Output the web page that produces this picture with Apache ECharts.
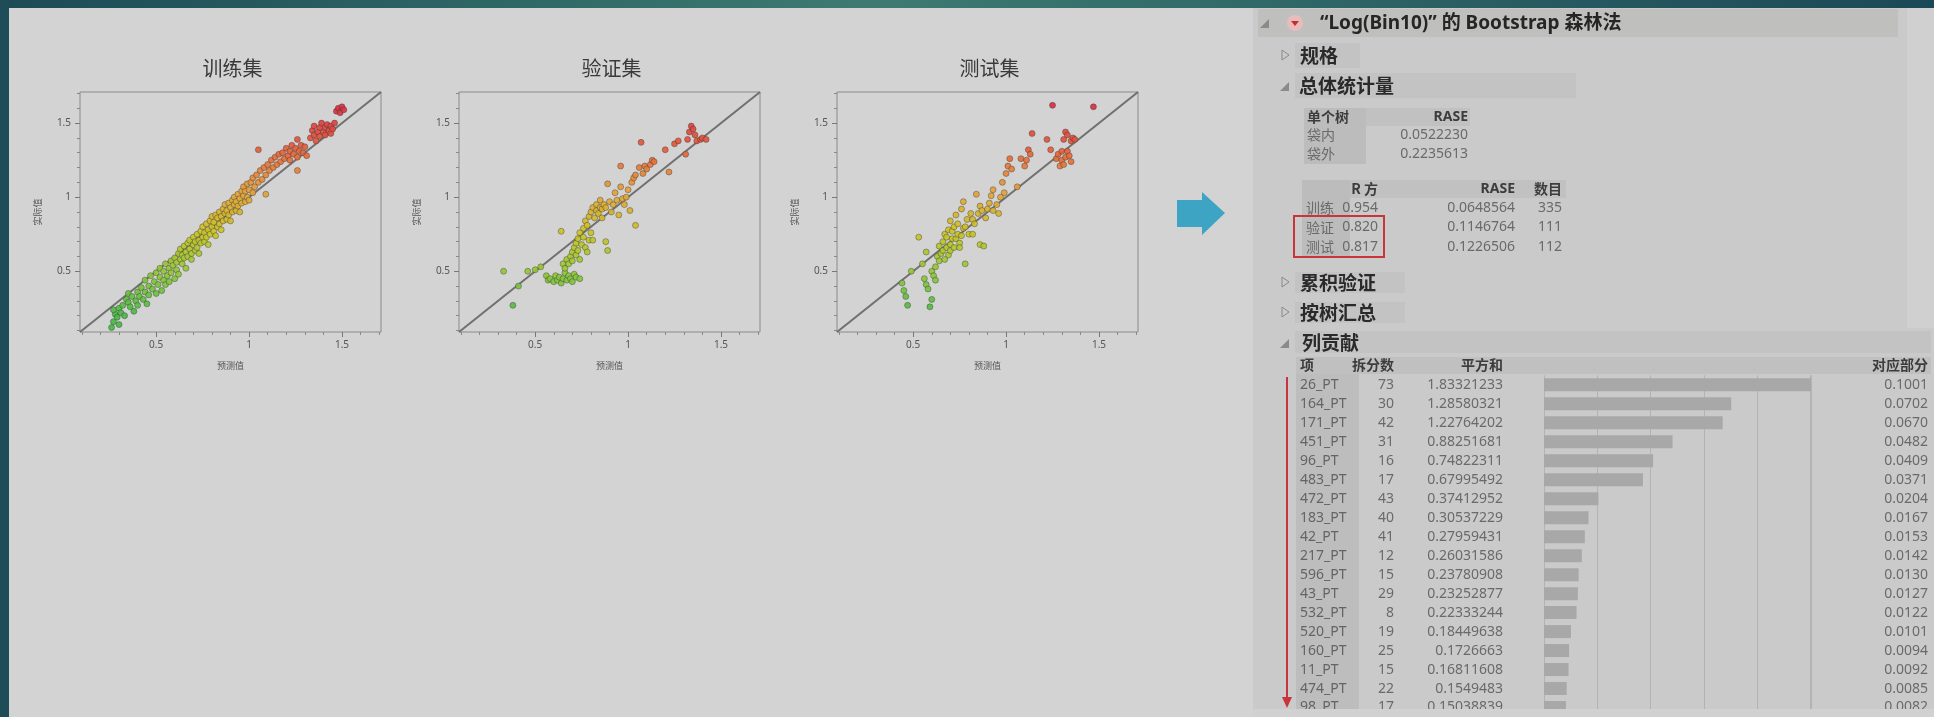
<!DOCTYPE html>
<html>
<head>
<meta charset="utf-8">
<script src="https://cdn.jsdelivr.net/npm/echarts@6.0.0/dist/echarts.min.js"></script>
<style>
  html, body { margin: 0; padding: 0; background: #d3d3d3; }
  #chart { width: 1934px; height: 717px; }
</style>
</head>
<body>
<div id="chart"></div>
<script>
// ---------- Actual vs. predicted panels ----------
const panelTitles = ['训练集', '验证集', '测试集'];
const xAxisName = '预测值';
const yAxisName = '实际值';
const majorTicks = [0.5, 1, 1.5];
const majorTickLabels = ['0.5', '1', '1.5'];
const minorTicks = [0.1, 0.2, 0.3, 0.4, 0.6, 0.7, 0.8, 0.9, 1.1, 1.2, 1.3, 1.4, 1.6, 1.7];

// [predicted, actual]
const trainPoints = [
  [0.26,0.12],[0.27,0.16],[0.28,0.21],[0.27,0.24],[0.29,0.19],[0.3,0.14],[0.3,0.25],[0.31,0.22],[0.32,0.27],[0.33,0.2],
  [0.34,0.31],[0.35,0.29],[0.35,0.35],[0.36,0.26],[0.37,0.33],[0.38,0.23],[0.39,0.3],[0.4,0.36],[0.4,0.27],[0.41,0.33],
  [0.42,0.39],[0.43,0.31],[0.44,0.36],[0.44,0.44],[0.45,0.28],[0.46,0.4],[0.46,0.34],
  [0.47,0.47],[0.48,0.38],[0.49,0.43],[0.5,0.35],[0.5,0.49],[0.51,0.41],[0.52,0.46],[0.52,0.52],[0.53,0.37],[0.54,0.44],
  [0.54,0.5],[0.55,0.41],[0.55,0.55],[0.56,0.47],[0.57,0.52],[0.57,0.43],[0.58,0.57],[0.58,0.49],[0.59,0.54],[0.6,0.45],
  [0.6,0.59],[0.61,0.51],[0.61,0.56],[0.62,0.62],[0.62,0.48],
  [0.63,0.58],[0.63,0.65],[0.64,0.55],[0.64,0.61],[0.65,0.67],[0.65,0.59],[0.66,0.63],[0.66,0.52],[0.67,0.69],[0.67,0.6],
  [0.68,0.65],[0.68,0.71],[0.69,0.62],[0.69,0.58],[0.7,0.68],[0.7,0.73],[0.71,0.64],[0.71,0.7],[0.72,0.75],[0.72,0.66],
  [0.73,0.71],[0.73,0.62],[0.74,0.77],[0.74,0.69],[0.75,0.73],[0.75,0.8],[0.76,0.7],[0.76,0.76],[0.77,0.82],[0.77,0.73],
  [0.78,0.78],[0.78,0.68],[0.79,0.84],[0.79,0.75],[0.8,0.8],[0.8,0.87],[0.81,0.77],[0.81,0.83],[0.82,0.88],[0.82,0.74],
  [0.83,0.8],[0.83,0.86],[0.84,0.9],[0.84,0.82],[0.85,0.87],[0.85,0.78],[0.86,0.92],[0.86,0.84],[0.87,0.89],[0.87,0.95],
  [0.88,0.85],[0.88,0.91],[0.89,0.96],[0.89,0.88],[0.9,0.93],[0.9,0.84],[0.91,0.98],[0.91,0.9],[0.92,0.95],[0.92,1.0],
  [0.93,0.91],[0.93,0.97],[0.94,1.02],[0.94,0.94],[0.95,0.99],[0.95,0.9],[0.96,1.04],[0.96,0.96],[0.97,1.01],[0.97,1.07],
  [0.98,0.97],[0.98,1.04],[0.99,1.09],[0.99,1.0],[1.0,1.05],[1.0,0.98],
  [1.01,1.1],[1.02,1.03],[1.02,1.13],[1.03,1.07],[1.04,1.15],[1.05,1.1],[1.05,1.32],[1.06,1.18],[1.07,1.12],[1.08,1.2],
  [1.09,1.02],[1.09,1.15],[1.1,1.22],[1.11,1.18],[1.12,1.25],[1.13,1.2],[1.14,1.27],[1.15,1.22],[1.16,1.29],[1.17,1.24],
  [1.18,1.3],[1.19,1.26],[1.2,1.33],[1.21,1.28],[1.22,1.31],[1.22,1.25],[1.23,1.35],[1.24,1.29],[1.25,1.33],[1.26,1.27],
  [1.26,1.39],[1.26,1.18],[1.27,1.31],[1.28,1.35],[1.29,1.3],[1.3,1.34],[1.31,1.28],
  [1.33,1.4],[1.34,1.45],[1.35,1.42],[1.35,1.48],[1.36,1.38],[1.37,1.44],[1.38,1.47],[1.38,1.41],[1.39,1.5],[1.4,1.44],
  [1.41,1.47],[1.41,1.42],[1.42,1.49],[1.43,1.45],[1.44,1.48],[1.44,1.43],[1.45,1.46],[1.46,1.5],[1.47,1.58],[1.48,1.6],
  [1.49,1.57],[1.5,1.61],[1.51,1.59]
];

const validPoints = [
  [0.33,0.5],[0.38,0.27],[0.41,0.4],[0.46,0.5],[0.5,0.51],[0.53,0.53],[0.56,0.47],[0.57,0.44],[0.58,0.45],[0.6,0.43],
  [0.61,0.47],[0.62,0.44],[0.63,0.46],[0.64,0.42],[0.65,0.45],[0.66,0.49],[0.67,0.44],[0.68,0.47],[0.69,0.45],[0.7,0.43],
  [0.71,0.48],[0.72,0.46],[0.74,0.45],[0.64,0.77],[0.65,0.55],[0.66,0.52],[0.67,0.58],[0.68,0.55],[0.69,0.6],[0.7,0.63],
  [0.7,0.57],[0.71,0.66],[0.72,0.61],[0.72,0.69],[0.73,0.64],[0.73,0.72],[0.74,0.58],[0.74,0.76],[0.75,0.68],[0.76,0.73],
  [0.76,0.79],[0.77,0.66],[0.77,0.84],[0.78,0.81],[0.78,0.63],[0.79,0.87],[0.79,0.71],[0.8,0.76],[0.8,0.9],[0.81,0.93],
  [0.81,0.71],[0.82,0.86],[0.83,0.91],[0.83,0.95],[0.84,0.89],[0.85,0.93],[0.85,0.98],[0.86,0.92],[0.86,0.86],[0.87,0.95],
  [0.88,0.93],[0.88,0.7],[0.89,0.64],[0.89,1.09],[0.9,0.97],[0.91,0.9],[0.92,0.95],[0.93,1.03],[0.94,0.98],[0.95,0.88],
  [0.96,1.07],[0.96,1.21],[0.97,0.99],[0.98,0.95],[0.99,1.0],[1.0,1.05],[1.01,0.91],[1.02,1.1],[1.03,1.13],[1.04,0.81],
  [1.04,1.15],[1.06,1.2],[1.07,1.37],[1.08,1.16],[1.09,1.21],[1.1,1.19],[1.12,1.22],[1.13,1.25],[1.14,1.24],[1.2,1.32],
  [1.22,1.17],[1.25,1.36],[1.27,1.38],[1.31,1.29],[1.32,1.39],[1.33,1.44],[1.34,1.48],[1.35,1.46],[1.36,1.42],[1.37,1.38],
  [1.39,1.39],[1.4,1.4],[1.42,1.39]
];

const testPoints = [
  [0.44,0.42],[0.45,0.37],[0.46,0.33],[0.47,0.27],[0.49,0.5],[0.53,0.73],[0.55,0.55],[0.56,0.45],[0.57,0.41],[0.57,0.63],
  [0.58,0.38],[0.59,0.26],[0.6,0.31],[0.6,0.5],[0.61,0.47],[0.62,0.44],[0.62,0.53],[0.63,0.6],[0.64,0.57],[0.64,0.67],
  [0.65,0.62],[0.66,0.64],[0.66,0.7],[0.67,0.58],[0.67,0.75],[0.68,0.66],[0.68,0.73],[0.69,0.61],[0.69,0.78],[0.7,0.68],
  [0.7,0.64],[0.7,0.84],[0.71,0.72],[0.71,0.77],[0.72,0.66],[0.72,0.8],[0.73,0.72],[0.73,0.88],[0.74,0.75],[0.74,0.82],
  [0.75,0.69],[0.75,0.66],[0.76,0.74],[0.76,0.92],[0.77,0.79],[0.77,0.97],[0.78,0.55],[0.78,0.8],[0.79,0.85],[0.8,0.75],
  [0.81,0.89],[0.82,0.85],[0.82,0.75],[0.83,0.82],[0.84,1.02],[0.85,0.89],[0.86,0.68],[0.86,0.94],[0.87,0.91],[0.88,0.67],
  [0.89,0.86],[0.9,0.92],[0.91,0.96],[0.92,1.01],[0.93,1.05],[0.93,0.91],[0.95,0.95],[0.96,0.89],[0.97,1.0],[0.98,1.1],
  [0.99,1.03],[1.0,1.16],[1.01,1.21],[1.02,1.26],[1.03,1.19],[1.06,1.07],[1.08,1.26],[1.1,1.21],[1.11,1.25],[1.12,1.32],
  [1.13,1.29],[1.14,1.43],[1.22,1.39],[1.24,1.32],[1.25,1.62],[1.27,1.26],[1.28,1.29],[1.29,1.21],[1.3,1.25],[1.3,1.31],
  [1.31,1.39],[1.31,1.22],[1.32,1.27],[1.32,1.44],[1.33,1.42],[1.33,1.31],[1.34,1.28],[1.35,1.38],[1.35,1.24],[1.36,1.4],
  [1.37,1.39],[1.47,1.61]
];

// ---------- Bootstrap forest report ----------
const reportTitle = '“Log(Bin10)” 的 Bootstrap 森林法';
const sectionSpec = '规格';
const sectionOverall = '总体统计量';
const sectionCrossVal = '累积验证';
const sectionPerTree = '按树汇总';
const sectionColumns = '列贡献';

const treeHead = ['单个树', 'RASE'];
const treeRows = ['袋内', '袋外'];
const treeRase = ['0.0522230', '0.2235613'];

const fitHead = ['R 方', 'RASE', '数目'];
const fitRows = ['训练', '验证', '测试'];
const fitR2 = ['0.954', '0.820', '0.817'];
const fitRase = ['0.0648564', '0.1146764', '0.1226506'];
const fitN = ['335', '111', '112'];

const contribHead = ['项', '拆分数', '平方和', '对应部分'];
const termNames = ['26_PT','164_PT','171_PT','451_PT','96_PT','483_PT','472_PT','183_PT','42_PT','217_PT',
                   '596_PT','43_PT','532_PT','520_PT','160_PT','11_PT','474_PT','98_PT'];
const splitCounts = [73, 30, 42, 31, 16, 17, 43, 40, 41, 12, 15, 29, 8, 19, 25, 15, 22, 17];
const sumSquares = ['1.83321233','1.28580321','1.22764202','0.88251681','0.74822311','0.67995492','0.37412952',
                    '0.30537229','0.27959431','0.26031586','0.23780908','0.23252877','0.22333244','0.18449638',
                    '0.1726663','0.16811608','0.1549483','0.15038839'];
const portions = [0.1001, 0.0702, 0.0670, 0.0482, 0.0409, 0.0371, 0.0204, 0.0167, 0.0153, 0.0142,
                  0.0130, 0.0127, 0.0122, 0.0101, 0.0094, 0.0092, 0.0085, 0.0082];

// ---------- layout ----------
const FONT = '"Noto Sans", "Noto Sans CJK SC", sans-serif';
const CJK = '"Noto Sans CJK SC", "Noto Sans", sans-serif';
const AX_MIN = 0.09, AX_MAX = 1.71;
const plotLeft = [80, 459, 837];
const PLOT_TOP = 92, PLOT_W = 301, PLOT_H = 240;
const pointSets = [trainPoints, validPoints, testPoints];

const tickLabel = v => {
  const k = majorTicks.findIndex(t => Math.abs(t - v) < 1e-9);
  return k >= 0 ? majorTickLabels[k] : '';
};

const grids = [], xAxes = [], yAxes = [], series = [];

plotLeft.forEach((left, i) => {
  grids.push({ left, top: PLOT_TOP, width: PLOT_W, height: PLOT_H, show: true,
               borderColor: '#8a8a8a', borderWidth: 1, backgroundColor: 'transparent' });
  const base = { gridIndex: i, type: 'value', min: AX_MIN, max: AX_MAX,
                 splitLine: { show: false }, axisLine: { show: false } };
  xAxes.push(Object.assign({}, base, {
    position: 'bottom', name: xAxisName, nameLocation: 'middle', nameGap: 29,
    nameTextStyle: { fontSize: 9, color: '#555', fontFamily: CJK },
    axisTick: { show: true, customValues: majorTicks, length: 5, lineStyle: { color: '#777' } },
    axisLabel: { show: true, customValues: majorTicks, formatter: tickLabel,
                 fontSize: 10, color: '#555', margin: 8, fontFamily: FONT }
  }));
  xAxes.push(Object.assign({}, base, {
    position: 'bottom',
    axisTick: { show: true, customValues: minorTicks, length: 3, lineStyle: { color: '#888' } },
    axisLabel: { show: false }
  }));
  yAxes.push(Object.assign({}, base, {
    position: 'left', name: yAxisName, nameLocation: 'middle', nameGap: 38, nameRotate: 90,
    nameTextStyle: { fontSize: 9, color: '#555', fontFamily: CJK },
    axisTick: { show: true, customValues: majorTicks, length: 5, lineStyle: { color: '#777' } },
    axisLabel: { show: true, customValues: majorTicks, formatter: tickLabel,
                 fontSize: 10, color: '#555', margin: 9, fontFamily: FONT }
  }));
  yAxes.push(Object.assign({}, base, {
    position: 'left',
    axisTick: { show: true, customValues: minorTicks, length: 3, lineStyle: { color: '#888' } },
    axisLabel: { show: false }
  }));
  series.push({
    type: 'scatter', xAxisIndex: 2 * i, yAxisIndex: 2 * i, data: pointSets[i],
    symbolSize: 6, z: 3, silent: true,
    itemStyle: { borderColor: 'rgba(55,55,55,0.55)', borderWidth: 0.8, opacity: 0.92 }
  });
  series.push({
    type: 'line', xAxisIndex: 2 * i, yAxisIndex: 2 * i, silent: true, z: 2,
    data: [[AX_MIN, AX_MIN], [AX_MAX, AX_MAX]], symbol: 'none',
    lineStyle: { color: '#707070', width: 2 }
  });
});

// contribution bars: one category row per term
const ROW_H = 19.25, BAR_LEFT = 1544, BAR_W = 267, ROW0 = 385;
const SPLIT_RIGHT = 1394, SS_RIGHT = 1503, PORTION_RIGHT = 1928;
grids.push({ left: BAR_LEFT, top: ROW0 - ROW_H / 2, width: BAR_W, height: ROW_H * termNames.length });
xAxes.push({ gridIndex: 3, type: 'value', min: 0, max: Math.max(...portions), interval: 0.02,
             axisLine: { show: false }, axisTick: { show: false }, axisLabel: { show: false },
             splitLine: { show: true, lineStyle: { color: '#b3b3b3', width: 1 } } });
const catAxis = (position, align, margin, formatter, color) => ({
  gridIndex: 3, type: 'category', inverse: true, data: termNames, position,
  axisLine: { show: false }, axisTick: { show: false }, splitLine: { show: false },
  axisLabel: { interval: 0, align, margin, formatter, color, fontSize: 14, fontFamily: FONT }
});
yAxes.push(catAxis('left', 'left', BAR_LEFT - 1300, (v) => v, '#646464'));
yAxes.push(catAxis('left', 'right', BAR_LEFT - SPLIT_RIGHT, (v, k) => String(splitCounts[k]), '#6a6a6a'));
yAxes.push(catAxis('left', 'right', BAR_LEFT - SS_RIGHT, (v, k) => sumSquares[k], '#6a6a6a'));
yAxes.push(catAxis('right', 'right', PORTION_RIGHT - (BAR_LEFT + BAR_W), (v, k) => portions[k].toFixed(4), '#6a6a6a'));
series.push({ type: 'bar', xAxisIndex: 6, yAxisIndex: 6, data: portions, barWidth: 13, silent: true,
              itemStyle: { color: '#a8a8a8' } });

// ---------- static page elements ----------
const txt = (x, y, text, opt = {}) => ({
  type: 'text', z: opt.z ?? 5, silent: true,
  style: { x, y, text, fill: opt.fill || '#3a3a3a',
           font: opt.font || ('14px ' + FONT),
           align: opt.align || 'left', textAlign: opt.align || 'left',
           verticalAlign: 'middle', textVerticalAlign: 'middle' }
});
const rect = (x, y, w, h, fill, z = -4) => ({ type: 'rect', z, silent: true,
  shape: { x, y, width: w, height: h }, style: { fill } });
const openMark = (x, y) => ({ type: 'polygon', z: 5, silent: true,
  shape: { points: [[x - 5, y + 5], [x + 4, y + 5], [x + 4, y - 4]] }, style: { fill: '#8a8a8a' } });
const closedMark = (x, y) => ({ type: 'polygon', z: 5, silent: true,
  shape: { points: [[x - 3, y - 5], [x - 3, y + 5], [x + 4, y]] }, style: { fill: 'none', stroke: '#8a8a8a', lineWidth: 1 } });

const SECTION_FONT = 'bold 19px ' + CJK;
const HEAD_FONT = 'bold 14px ' + FONT;
const BODY_FONT = '14px ' + FONT;
const BODY = '#6a6a6a';
const R2_RIGHT = 1378, RASE_RIGHT = 1515, N_RIGHT = 1562;

const graphics = [
  // panel backgrounds
  rect(1253, 0, 681, 717, '#cacaca', -6),
  rect(1907, 0, 27, 328, '#d0d0d0', -5),
  // arrow between the plots and the report
  { type: 'polygon', z: 5, silent: true,
    shape: { points: [[1177, 200], [1202, 200], [1202, 192], [1225, 213], [1202, 235], [1202, 227], [1177, 227]] },
    style: { fill: '#3ea4c3' } },

  // report title bar
  rect(1258, 9, 640, 28, '#bfc0bd'),
  openMark(1265, 23),
  { type: 'circle', z: 5, silent: true, shape: { cx: 1295, cy: 23, r: 8 }, style: { fill: '#e8bcbc' } },
  { type: 'polygon', z: 6, silent: true, shape: { points: [[1291, 21], [1299, 21], [1295, 26]] }, style: { fill: '#c0302c' } },
  txt(1320, 24, reportTitle, { font: 'bold 19px ' + FONT, fill: '#262626' }),

  // 规格
  rect(1295, 43, 65, 25, '#c3c3c3'),
  closedMark(1285, 55),
  txt(1300, 56, sectionSpec, { font: SECTION_FONT, fill: '#2a2a2a' }),

  // 总体统计量
  rect(1295, 73, 281, 25, '#c3c3c3'),
  openMark(1285, 86),
  txt(1299, 86, sectionOverall, { font: SECTION_FONT, fill: '#2a2a2a' }),

  rect(1304, 108, 166, 18, '#c1c1c1'),
  rect(1304, 108, 62, 56, '#bcbcbc'),
  txt(1307, 117, treeHead[0], { font: 'bold 14px ' + CJK, fill: '#3c3c3c' }),
  txt(1468, 117, treeHead[1], { font: HEAD_FONT, fill: '#3c3c3c', align: 'right' }),
  ...treeRows.map((r, k) => txt(1307, 135 + 19 * k, r, { font: '14px ' + CJK, fill: BODY })),
  ...treeRase.map((r, k) => txt(1468, 135 + 19 * k, r, { font: BODY_FONT, fill: BODY, align: 'right' })),

  rect(1302, 180, 264, 18, '#c1c1c1'),
  rect(1302, 180, 48, 76, '#bcbcbc'),
  txt(R2_RIGHT, 189, fitHead[0], { font: 'bold 14px ' + CJK, fill: '#3c3c3c', align: 'right' }),
  txt(RASE_RIGHT, 189, fitHead[1], { font: HEAD_FONT, fill: '#3c3c3c', align: 'right' }),
  txt(N_RIGHT, 189, fitHead[2], { font: 'bold 14px ' + CJK, fill: '#3c3c3c', align: 'right' }),
  ...fitRows.map((r, k) => txt(1306, 208 + 19.5 * k, r, { font: '14px ' + CJK, fill: BODY })),
  ...fitR2.map((r, k) => txt(R2_RIGHT, 208 + 19.5 * k, r, { font: BODY_FONT, fill: BODY, align: 'right' })),
  ...fitRase.map((r, k) => txt(RASE_RIGHT, 208 + 19.5 * k, r, { font: BODY_FONT, fill: BODY, align: 'right' })),
  ...fitN.map((r, k) => txt(N_RIGHT, 208 + 19.5 * k, r, { font: BODY_FONT, fill: BODY, align: 'right' })),
  { type: 'rect', z: 7, silent: true, shape: { x: 1294, y: 216, width: 90, height: 41 },
    style: { fill: 'none', stroke: '#c9343a', lineWidth: 2 } },

  // 累积验证 / 按树汇总
  rect(1295, 272, 110, 21, '#c3c3c3'),
  closedMark(1285, 282),
  txt(1300, 283, sectionCrossVal, { font: SECTION_FONT, fill: '#2a2a2a' }),
  rect(1295, 302, 110, 21, '#c3c3c3'),
  closedMark(1285, 312),
  txt(1300, 313, sectionPerTree, { font: SECTION_FONT, fill: '#2a2a2a' }),

  // 列贡献
  rect(1295, 331, 636, 22, '#c3c3c3'),
  openMark(1285, 343),
  txt(1302, 343, sectionColumns, { font: SECTION_FONT, fill: '#2a2a2a' }),
  rect(1296, 357, 635, 17, '#c0c0c0'),
  rect(1296, 374, 63, 335, '#bdbdbd'),
  txt(1300, 365, contribHead[0], { font: 'bold 14px ' + CJK, fill: '#3c3c3c' }),
  txt(SPLIT_RIGHT, 365, contribHead[1], { font: 'bold 14px ' + CJK, fill: '#3c3c3c', align: 'right' }),
  txt(SS_RIGHT, 365, contribHead[2], { font: 'bold 14px ' + CJK, fill: '#3c3c3c', align: 'right' }),
  txt(PORTION_RIGHT, 365, contribHead[3], { font: 'bold 14px ' + CJK, fill: '#3c3c3c', align: 'right' }),

  // report window bottom edge hides the partially scrolled row
  rect(1253, 709, 681, 8, '#d1d1d1', 50),

  // red ranking arrow
  { type: 'line', z: 60, silent: true, shape: { x1: 1287, y1: 377, x2: 1287, y2: 699 },
    style: { stroke: '#c8333d', lineWidth: 2 } },
  { type: 'polygon', z: 60, silent: true, shape: { points: [[1282, 697], [1292, 697], [1287, 708]] },
    style: { fill: '#c8333d' } },

  // slide frame
  { type: 'rect', z: 70, silent: true, shape: { x: 0, y: 0, width: 1934, height: 8 },
    style: { fill: new echarts.graphic.LinearGradient(0, 0, 1, 0, [
      { offset: 0, color: '#1c4a55' }, { offset: 0.45, color: '#3d7b72' }, { offset: 1, color: '#1b4856' }]) } },
  rect(0, 0, 9, 717, '#1e4c57', 70)
];

// panel titles
panelTitles.forEach((t, i) => {
  graphics.push(txt(plotLeft[i] + PLOT_W / 2 + 2, 68, t, { font: '20px ' + CJK, fill: '#3a3a3a', align: 'center' }));
});

const chart = echarts.init(document.getElementById('chart'), null, { renderer: 'canvas', width: 1934, height: 717 });
chart.setOption({
  backgroundColor: '#d3d3d3',
  animation: false,
  grid: grids,
  xAxis: xAxes,
  yAxis: yAxes,
  visualMap: {
    type: 'continuous', show: false, seriesIndex: [0, 2, 4], dimension: 1, min: 0.2, max: 1.6,
    inRange: { color: ['#46b846', '#8ec63a', '#c9c326', '#e3a13a', '#e4603a', '#d83044'] }
  },
  series,
  graphic: { elements: graphics }
});
</script>
</body>
</html>
